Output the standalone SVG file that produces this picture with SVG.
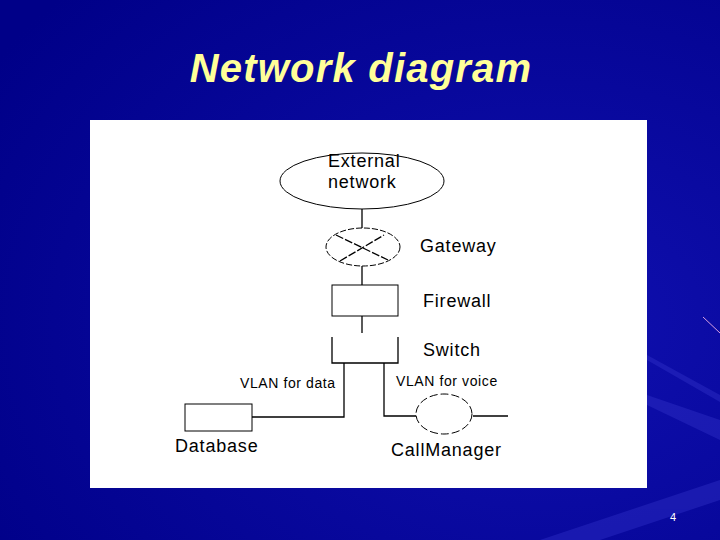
<svg xmlns="http://www.w3.org/2000/svg" width="720" height="540" viewBox="0 0 720 540">
<defs>
<radialGradient id="bg" cx="0.75" cy="0.6" r="0.9">
<stop offset="0" stop-color="#1010b0"/>
<stop offset="1" stop-color="#000088"/>
</radialGradient>
<style>
.ln{stroke:#000;stroke-width:1.3;fill:none}
.sh{stroke:#000;stroke-width:1;fill:#fff}
.t{font-family:"Liberation Sans",Arial,sans-serif;fill:#000;font-size:18px;letter-spacing:0.8px}
.s{font-family:"Liberation Sans",Arial,sans-serif;fill:#000;font-size:14px;letter-spacing:0.6px}
</style>
</defs>
<rect width="720" height="540" fill="url(#bg)"/>
<g fill="#3a3ad0" opacity="0.35">
<polygon points="647,395 720,420 720,440 647,405"/>
<polygon points="647,355 720,395 720,402 647,360"/>
<polygon points="540,540 720,480 720,500 600,540"/>
</g>
<line x1="703" y1="317" x2="720" y2="333" stroke="#d9a0e0" stroke-width="1"/>
<text x="361" y="82" text-anchor="middle" font-family="Liberation Sans,Arial,sans-serif" font-weight="bold" font-style="italic" font-size="40" letter-spacing="1.2" fill="#ffff99">Network diagram</text>
<text x="673" y="521" text-anchor="middle" font-family="Liberation Sans,Arial,sans-serif" font-size="11" fill="#fff">4</text>
<rect x="90" y="120" width="557" height="368" fill="#fff"/>
<g id="connectors">
<line class="ln" x1="362" y1="208" x2="362" y2="229"/>
<line class="ln" x1="362" y1="266" x2="362" y2="285"/>
<line class="ln" x1="362" y1="316" x2="362" y2="333"/>
<polyline class="ln" points="344,363 344,417 252,417" stroke-width="2"/>
<polyline class="ln" points="384,363 384,416 416,416"/>
<line class="ln" x1="473" y1="416" x2="508" y2="416"/>
</g>
<g id="external"><ellipse class="sh" cx="362" cy="181" rx="82" ry="28"/>
<text class="t" x="328" y="167">External</text><text class="t" x="328" y="188">network</text></g>
<g id="gateway"><ellipse class="sh" cx="363" cy="247" rx="37" ry="19" stroke-dasharray="6,2"/>
<line class="ln" x1="336" y1="235" x2="388" y2="260" stroke-width="0.8" stroke-dasharray="8,2"/>
<line class="ln" x1="340" y1="261" x2="384" y2="235" stroke-width="0.8" stroke-dasharray="8,2"/>
<text class="t" x="420" y="252">Gateway</text></g>
<g id="firewall"><rect class="sh" x="332" y="285" width="66" height="31"/><text class="t" x="423" y="307">Firewall</text></g>
<g id="switch"><polyline class="ln" points="332,337 332,363 398,363 398,337" stroke-width="1"/><text class="t" x="423" y="356">Switch</text></g>
<text class="s" x="240" y="388">VLAN for data</text>
<text class="s" x="396" y="386">VLAN for voice</text>
<g id="database"><rect class="sh" x="185" y="404" width="67" height="27"/><text class="t" x="175" y="452">Database</text></g>
<g id="callmanager"><ellipse class="sh" cx="444" cy="414" rx="28" ry="20" stroke-dasharray="8,3"/><text class="t" x="391" y="456">CallManager</text></g>
</svg>
